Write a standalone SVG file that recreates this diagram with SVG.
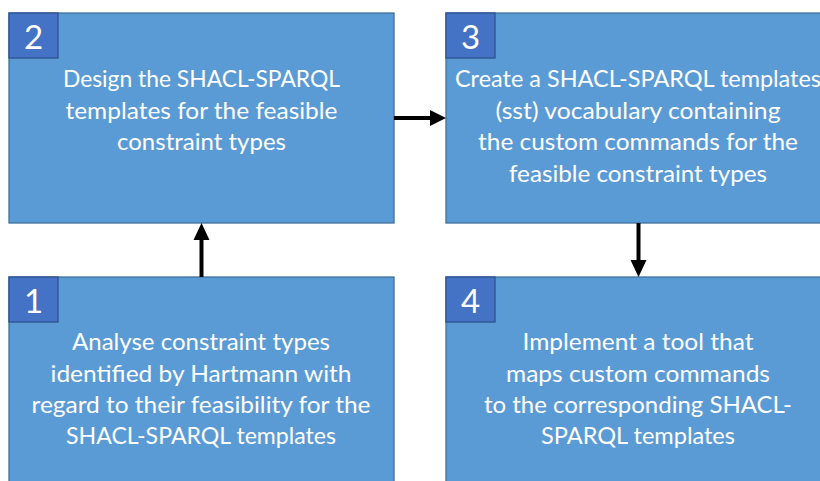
<svg xmlns="http://www.w3.org/2000/svg" width="820" height="481" viewBox="0 0 820 481">
  <defs>
    <style>
      .box { fill: #5B9BD5; stroke: #41719C; stroke-width: 1.3; }
      .badge { fill: #4472C4; stroke: #2F528F; stroke-width: 1.3; }
      .txt { font-family: Lato, "Open Sans", "Liberation Sans", sans-serif; font-size: 24px; fill: #FFFFFF; text-anchor: middle; }
      .num { font-family: Lato, "Open Sans", "Liberation Sans", sans-serif; font-size: 33px; fill: #FFFFFF; text-anchor: middle; }
      .conn { stroke: #000000; stroke-width: 4; fill: none; }
      .head { fill: #000000; }
    </style>
  </defs>
  <rect x="0" y="0" width="820" height="481" fill="#FFFFFF"/>

  <g id="node2">
    <rect class="box" x="9" y="13" width="385" height="210"/>
    <rect class="badge" x="9" y="13" width="49" height="45"/>
    <text class="num" x="33.5" y="48.5">2</text>
    <text class="txt" x="201.5" y="87" textLength="277" lengthAdjust="spacingAndGlyphs">Design the SHACL-SPARQL</text>
    <text class="txt" x="201.5" y="118.5" textLength="272" lengthAdjust="spacingAndGlyphs">templates for the feasible</text>
    <text class="txt" x="201.5" y="150" textLength="169" lengthAdjust="spacingAndGlyphs">constraint types</text>
  </g>

  <g id="node3">
    <rect class="box" x="446" y="13" width="384" height="210"/>
    <rect class="badge" x="446" y="13" width="49" height="45"/>
    <text class="num" x="470.5" y="48.5">3</text>
    <text class="txt" x="638" y="87" textLength="366" lengthAdjust="spacingAndGlyphs">Create a SHACL-SPARQL templates</text>
    <text class="txt" x="638" y="118.5" textLength="285" lengthAdjust="spacingAndGlyphs">(sst) vocabulary containing</text>
    <text class="txt" x="638" y="150" textLength="320" lengthAdjust="spacingAndGlyphs">the custom commands for the</text>
    <text class="txt" x="638" y="181.5" textLength="258" lengthAdjust="spacingAndGlyphs">feasible constraint types</text>
  </g>

  <g id="node1">
    <rect class="box" x="9" y="277" width="385" height="210"/>
    <rect class="badge" x="9" y="277" width="49" height="45"/>
    <text class="num" x="33.5" y="312.5">1</text>
    <text class="txt" x="201" y="350" textLength="258" lengthAdjust="spacingAndGlyphs">Analyse constraint types</text>
    <text class="txt" x="201" y="381.5" textLength="301" lengthAdjust="spacingAndGlyphs">identified by Hartmann with</text>
    <text class="txt" x="201" y="413" textLength="339" lengthAdjust="spacingAndGlyphs">regard to their feasibility for the</text>
    <text class="txt" x="201" y="444" textLength="270" lengthAdjust="spacingAndGlyphs">SHACL-SPARQL templates</text>
  </g>

  <g id="node4">
    <rect class="box" x="446" y="277" width="384" height="210"/>
    <rect class="badge" x="446" y="277" width="49" height="45"/>
    <text class="num" x="470.5" y="312.5">4</text>
    <text class="txt" x="638" y="350" textLength="231" lengthAdjust="spacingAndGlyphs">Implement a tool that</text>
    <text class="txt" x="638" y="381.5" textLength="264" lengthAdjust="spacingAndGlyphs">maps custom commands</text>
    <text class="txt" x="638" y="413" textLength="308" lengthAdjust="spacingAndGlyphs">to the corresponding SHACL-</text>
    <text class="txt" x="638" y="444" textLength="194" lengthAdjust="spacingAndGlyphs">SPARQL templates</text>
  </g>

  <g id="connectors">
    <line class="conn" x1="394" y1="118" x2="431" y2="118"/>
    <polygon class="head" points="446,118 430,110 430,126"/>
    <line class="conn" x1="201.5" y1="277" x2="201.5" y2="239"/>
    <polygon class="head" points="201.5,223 193.5,240 209.5,240"/>
    <line class="conn" x1="638.5" y1="223" x2="638.5" y2="261"/>
    <polygon class="head" points="638.5,277 630.5,260 646.5,260"/>
  </g>
</svg>
